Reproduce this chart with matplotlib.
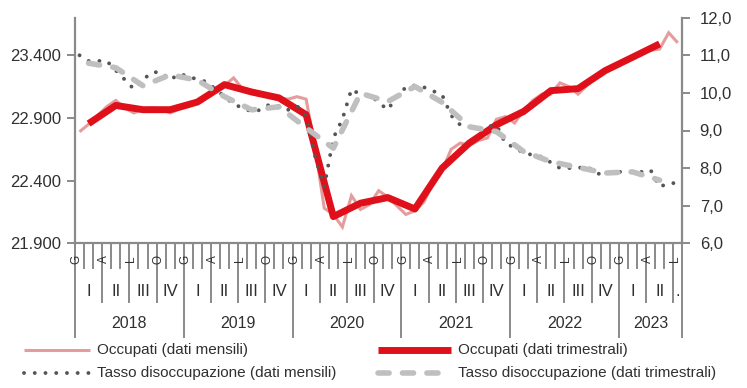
import matplotlib
matplotlib.use("Agg")
import matplotlib.pyplot as plt
from matplotlib.lines import Line2D
from matplotlib import font_manager
from matplotlib.ticker import FuncFormatter, FixedLocator

# ---- data -------------------------------------------------------------
years = ["2018", "2019", "2020", "2021", "2022", "2023"]
quarter_labels = ["I", "II", "III", "IV"]
month_letters = ["G", "A", "L", "O"]          # Gennaio, Aprile, Luglio, Ottobre

# Occupati, dati mensili (migliaia), gen 2018 - lug 2023
occ_monthly = [
    22790, 22850, 22920, 22990, 23040, 22980, 22940, 22970, 22980, 22970, 22940, 22970,
    22990, 23030, 23060, 23120, 23160, 23220, 23130, 23100, 23090, 23070, 23060, 23050,
    23070, 23050, 22660, 22180, 22130, 22030, 22280, 22170, 22210, 22320, 22270, 22200,
    22130, 22160, 22230, 22380, 22480, 22650, 22700, 22680, 22720, 22740, 22890, 22910,
    22860, 22960, 23040, 23090, 23090, 23180, 23150, 23090, 23160, 23230, 23280, 23320,
    23350, 23380, 23420, 23440, 23450, 23580, 23500,
]
# Occupati, dati trimestrali (I 2018 - II 2023)
occ_quarterly = [
    22855, 23000, 22966, 22966,
    23027, 23166, 23107, 23060,
    22926, 22113, 22220, 22265,
    22174, 22500, 22700, 22846,
    22952, 23118, 23134, 23278,
    23384, 23491,
]
# Tasso di disoccupazione, dati mensili (%)
unemp_monthly = [
    11.0, 10.85, 10.85, 10.85, 10.6, 10.35, 10.1, 10.35, 10.55, 10.55, 10.35, 10.5,
    10.45, 10.35, 10.3, 10.1, 9.9, 9.7, 9.6, 9.5, 9.55, 9.7, 9.65, 9.55,
    9.65, 9.4, 8.3, 7.5, 8.8, 9.3, 10.1, 9.95, 9.95, 9.75, 9.55, 9.9,
    10.15, 10.2, 10.15, 10.05, 9.95, 9.4, 9.15, 9.1, 9.05, 9.1, 9.15, 8.65,
    8.55, 8.4, 8.35, 8.3, 8.15, 8.0, 8.0, 8.0, 8.05, 7.85, 7.85, 7.9,
    7.9, 7.9, 7.9, 7.95, 7.5, 7.6, 7.6,
]
# Tasso di disoccupazione, dati trimestrali (%)
unemp_quarterly = [
    10.79, 10.67, 10.19, 10.48,
    10.34, 9.90, 9.55, 9.63,
    9.07, 8.53, 9.99, 9.77,
    10.17, 9.75, 9.10, 8.97,
    8.44, 8.17, 8.02, 7.87,
    7.90, 7.68,
]

# ---- style ------------------------------------------------------------
available = {f.name for f in font_manager.fontManager.ttflist}
base_font = "Liberation Sans Narrow" if "Liberation Sans Narrow" in available else "Liberation Sans"
plt.rcParams["font.family"] = [base_font, "DejaVu Sans"]

TXT = "#303030"
AXC = "#8a8a8a"
PINK = "#E49C9C"
RED = "#E0101A"
DOTS = "#555555"
LGRAY = "#BFBFBF"

pink_kw = dict(color=PINK, lw=2.2, solid_capstyle="butt", solid_joinstyle="miter")
red_kw = dict(color=RED, lw=5.0, solid_capstyle="butt", solid_joinstyle="round")
dots_kw = dict(color=DOTS, lw=2.8, linestyle=(0, (0.01, 2.75)), dash_capstyle="round")
dash_kw = dict(color=LGRAY, lw=4.0, linestyle=(0, (2.0, 2.4)), dash_capstyle="round")

W, H = 747, 388
fig = plt.figure(figsize=(W / 100, H / 100), dpi=100)
x0, x1, ytop, ybot = 75.0, 682.3, 17.7, 243.3
ax = fig.add_axes([x0 / W, 1 - ybot / H, (x1 - x0) / W, (ybot - ytop) / H])
ax2 = ax.twinx()

n = len(occ_monthly)
months = list(range(n))
qx = [3 * q + 1 for q in range(len(occ_quarterly))]

ax.plot(months, occ_monthly, **pink_kw)
ax.plot(qx, occ_quarterly, **red_kw)
ax2.plot(months, unemp_monthly, **dots_kw)
ax2.plot(qx, unemp_quarterly, **dash_kw)

ax.set_xlim(-0.5, n - 0.5)
ax.set_ylim(21900, 23700)
ax2.set_ylim(6, 12)

ax.yaxis.set_major_locator(FixedLocator([21900, 22400, 22900, 23400]))
ax.yaxis.set_major_formatter(FuncFormatter(lambda v, p: f"{int(v):,}".replace(",", ".")))
ax2.yaxis.set_major_locator(FixedLocator([6, 7, 8, 9, 10, 11, 12]))
ax2.yaxis.set_major_formatter(FuncFormatter(lambda v, p: f"{v:.1f}".replace(".", ",")))

for a in (ax, ax2):
    for s in a.spines.values():
        s.set_visible(False)
    a.set_xticks([])
ax.spines["left"].set_visible(True)
ax.spines["bottom"].set_visible(True)
ax2.spines["right"].set_visible(True)
for s in (ax.spines["left"], ax.spines["bottom"], ax2.spines["right"]):
    s.set_color(AXC)
    s.set_linewidth(1.6)

ax.tick_params(axis="y", direction="out", length=5.5, width=1.4, color=AXC,
               labelsize=12, labelcolor=TXT, pad=4.5)
ax2.tick_params(axis="y", direction="out", length=5.5, width=1.4, color=AXC,
                labelsize=12, labelcolor=TXT, pad=7)

# ---- multi-level category axis ----------------------------------------
tr = ax.get_xaxis_transform()
axh = ybot - ytop
def fy(px):
    return (ybot - px) / axh

for b in range(n + 1):
    xb = b - 0.5
    if b % 12 == 0 or b == n:
        yend = 337
    elif b % 3 == 0:
        yend = 302
    else:
        yend = 268
    ax.add_line(Line2D([xb, xb], [0, fy(yend)], transform=tr, color=AXC,
                       lw=1.4, clip_on=False))

for m in range(n):
    if m % 3 == 0:
        ax.text(m - 0.3, fy(259), month_letters[(m % 12) // 3], transform=tr,
                rotation=90, ha="center", va="center", fontsize=8.5, color=TXT)

for q in range((n + 2) // 3):
    start = 3 * q
    end = min(3 * q + 3, n)
    label = quarter_labels[q % 4] if end - start == 3 else "."
    ax.text((start + end - 1) / 2, fy(291), label, transform=tr,
            ha="center", va="center", fontsize=12, color=TXT)

for k, yr in enumerate(years):
    start = 12 * k
    end = min(12 * k + 12, n)
    ax.text((start + end - 1) / 2, fy(324), yr, transform=tr,
            ha="center", va="center", fontsize=11.5, color=TXT)

# ---- legend -----------------------------------------------------------
def legend_entry(xa, xb, ypx, kw, label):
    yf = 1 - ypx / H
    fig.add_artist(Line2D([xa / W, xb / W], [yf, yf], transform=fig.transFigure, **kw))
    fig.text((xb + 7) / W, yf, label, ha="left", va="center", fontsize=11, color=TXT)

legend_entry(24, 90, 350, pink_kw, "Occupati (dati mensili)")
legend_entry(24, 90, 373, dots_kw, "Tasso disoccupazione (dati mensili)")
legend_entry(378, 451, 350, red_kw, "Occupati (dati trimestrali)")
legend_entry(378, 451, 373, dash_kw, "Tasso disoccupazione (dati trimestrali)")

fig.savefig("out.png", dpi=100)
